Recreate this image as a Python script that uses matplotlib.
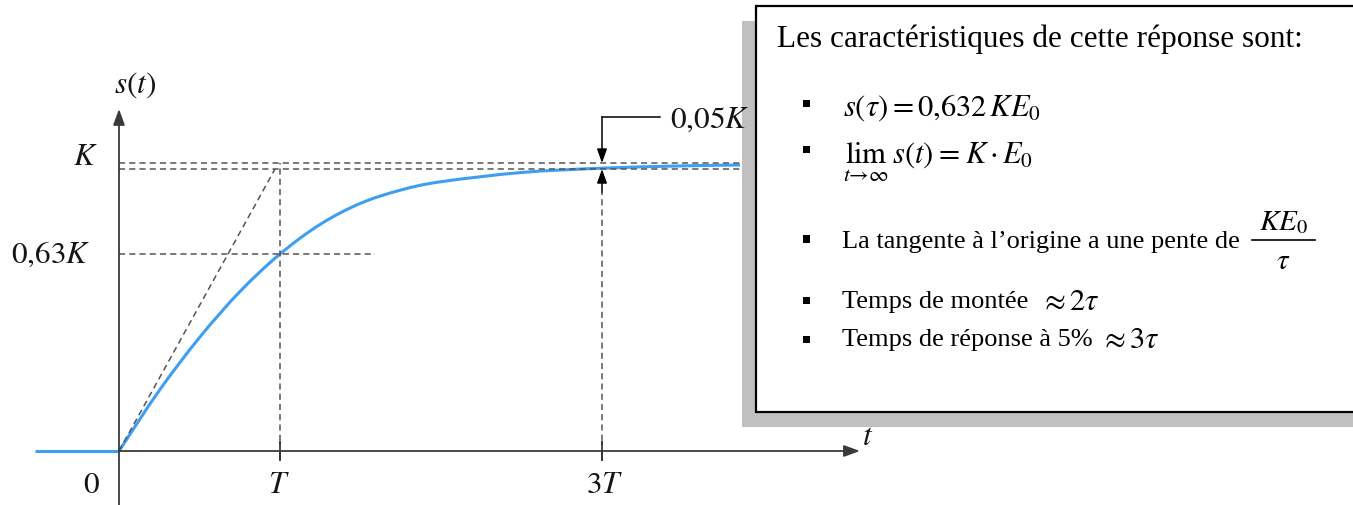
import numpy as np
import matplotlib
matplotlib.use("Agg")
import matplotlib.pyplot as plt
from matplotlib.path import Path
from matplotlib.patches import PathPatch, Rectangle

plt.rcParams['mathtext.fontset'] = 'stix'
plt.rcParams['font.family'] = ['Liberation Serif', 'DejaVu Serif']

# Figure size in pixels
W, H = 1353, 506

# Step response (t in units of T, s in units of K)
t_resp = [0, 0.25, 0.5, 0.75, 1.0, 1.25, 1.5, 1.75, 2.0, 2.5, 3.0, 3.5, 3.857]
s_resp = [0, 0.21, 0.394, 0.553, 0.684, 0.787, 0.860, 0.906, 0.935, 0.967,
          0.982, 0.990, 0.993]
t_before = [-0.522, 0]          # flat part before the step
s_before = [0, 0]

# Reference levels and times
k_top = 1.0                     # K
k_low = 0.979                   # lower line of the 5% band
k_63 = 0.684                    # 0,63K
t_T = 1.0
t_3T = 3.0
tangent_t = [0, 0.969]
tangent_s = [0, 0.979]

x_labels = ['$0$', '$T$', '$3T$']
x_label_pos = [-0.174, 0.994, 3.019]

box_title = 'Les caractéristiques de cette réponse sont:'
box_tangent = 'La tangente à l\u2019origine a une pente de'
box_rise = 'Temps de montée'
box_resp = 'Temps de réponse à 5%'

BLUE = '#3d9ef2'
DASH = dict(color='#555555', lw=1.1, ls=(0, (4, 2.7)))
TXT = '#151515'
LAB = 22.5


def smooth_path(xs, ys):
    # Catmull-Rom through the read points, drawn as cubic Bezier pieces
    P = np.column_stack([xs, ys]).astype(float)
    n = len(P)
    verts = [P[0]]
    codes = [Path.MOVETO]
    for i in range(n - 1):
        p0 = P[i - 1] if i > 0 else P[i]
        p1, p2 = P[i], P[i + 1]
        p3 = P[i + 2] if i + 2 < n else P[i + 1]
        verts += [p1 + (p2 - p0) / 6, p2 - (p3 - p1) / 6, p2]
        codes += [Path.CURVE4] * 3
    return Path(verts, codes)


def fx(x):
    return x / W


def fy(y):
    return 1 - y / H


fig = plt.figure(figsize=(W / 100, H / 100), dpi=100)
ax = fig.add_axes([0, 0, 1, 1])
# t=0 at x=119 px, 161 px per T ; s=0 at y=452 px, 288 px per K
ax.set_xlim(-119 / 161, (W - 119) / 161)
ax.set_ylim(-(H - 452) / 288, 452 / 288)
ax.axis('off')

# Axes with arrows
arrow_kw = dict(arrowstyle='-|>,head_length=0.6,head_width=0.22',
                color='#3a3a3a', lw=1.3, mutation_scale=16, shrinkA=0, shrinkB=0)
ax.annotate('', xy=(0, 1.1875), xytext=(0, -0.2), arrowprops=arrow_kw)
ax.annotate('', xy=(4.602, 0), xytext=(0, 0), arrowprops=arrow_kw)
for tk in [t_T, t_3T]:
    ax.plot([tk, tk], [-0.03, 0.03], color='#222222', lw=1.3)

# Dashed construction lines
ax.plot([0, 3.86], [k_top, k_top], **DASH)
ax.plot([0, 3.86], [k_low, k_low], **DASH)
ax.plot([0, 1.59], [k_63, k_63], **DASH)
ax.plot([t_T, t_T], [0, k_top], **DASH)
ax.plot(tangent_t, tangent_s, **DASH)
ax.plot([t_3T, t_3T], [0, 0.899], **DASH)

# Response curve
ax.plot(t_before, s_before, color=BLUE, lw=2.2, solid_capstyle='butt')
ax.add_patch(PathPatch(smooth_path(t_resp, s_resp), fill=False,
                       edgecolor=BLUE, lw=2.2))

# 0,05K annotation
small_kw = dict(arrowstyle='-|>,head_length=0.7,head_width=0.25',
                color='k', lw=1.1, mutation_scale=12, shrinkA=0, shrinkB=0)
ax.plot([t_3T, 3.36], [1.16, 1.16], color='k', lw=1.1)
ax.annotate('', xy=(t_3T, k_top), xytext=(t_3T, 1.16), arrowprops=small_kw)
ax.annotate('', xy=(t_3T, k_low), xytext=(t_3T, 0.899), arrowprops=small_kw)

# Axis labels
ax.text(0.099, 1.274, '$s(t)$', fontsize=LAB, ha='center', va='center', color=TXT)
ax.text(-0.211, 1.021, '$K$', fontsize=LAB, ha='center', va='center', color=TXT)
ax.text(-0.180, k_63, '$0{,}63K$', fontsize=LAB, ha='right', va='center', color=TXT)
for lab, xp in zip(x_labels, x_label_pos):
    ax.text(xp, -0.115, lab, fontsize=LAB, ha='center', va='center', color=TXT)
ax.text(4.652, 0.052, '$t$', fontsize=LAB, ha='center', va='center', color=TXT)

# Info box with shadow
fig.patches.append(Rectangle((fx(742), fy(428)), fx(700), 406 / H,
                             transform=fig.transFigure, facecolor='#c0c0c0',
                             edgecolor='none', zorder=3))
fig.patches.append(Rectangle((fx(756), fy(413)), fx(700), 406 / H,
                             transform=fig.transFigure, facecolor='white',
                             edgecolor='black', lw=1.6, zorder=4))

# 0,05K label sits above the shadow, so it is a figure-level text
fig.text(3.422, 1.153, '$0{,}05K$', transform=ax.transData, fontsize=LAB,
         va='center', color=TXT, zorder=6)

fig.text(fx(777), fy(47), box_title, fontsize=22.5, va='baseline', zorder=6)

for yb in [104, 150, 240, 301, 340]:
    fig.patches.append(Rectangle((fx(803), fy(yb + 3.5)), fx(7), 7 / H,
                                 transform=fig.transFigure, facecolor='black',
                                 edgecolor='none', zorder=6))

fig.text(fx(843), fy(108), r'$s(\tau) = 0{,}632\,KE_0$', fontsize=22,
         va='center', zorder=6)
fig.text(fx(843), fy(164),
         r'$\lim_{t\to\infty}\, s(t) \;=\; K \,\cdot\, E_0$', fontsize=22,
         va='baseline', zorder=6)
fig.text(fx(842), fy(242), box_tangent, fontsize=19, va='center', zorder=6)
fig.text(fx(1283), fy(230), '$KE_0$', fontsize=21, ha='center', va='baseline',
         zorder=6)
fig.add_artist(plt.Line2D([fx(1252), fx(1315)], [fy(241), fy(241)],
                          transform=fig.transFigure, color='black', lw=1.2,
                          zorder=6))
fig.text(fx(1283), fy(262), r'$\tau$', fontsize=21, ha='center', va='center',
         zorder=6)
fig.text(fx(842), fy(302), box_rise, fontsize=19, va='center', zorder=6)
fig.text(fx(1040), fy(302), r'$\approx 2\tau$', fontsize=22, va='center', zorder=6)
fig.text(fx(842), fy(340), box_resp, fontsize=19, va='center', zorder=6)
fig.text(fx(1100), fy(340), r'$\approx 3\tau$', fontsize=22, va='center', zorder=6)

fig.savefig('out.png', dpi=100)
